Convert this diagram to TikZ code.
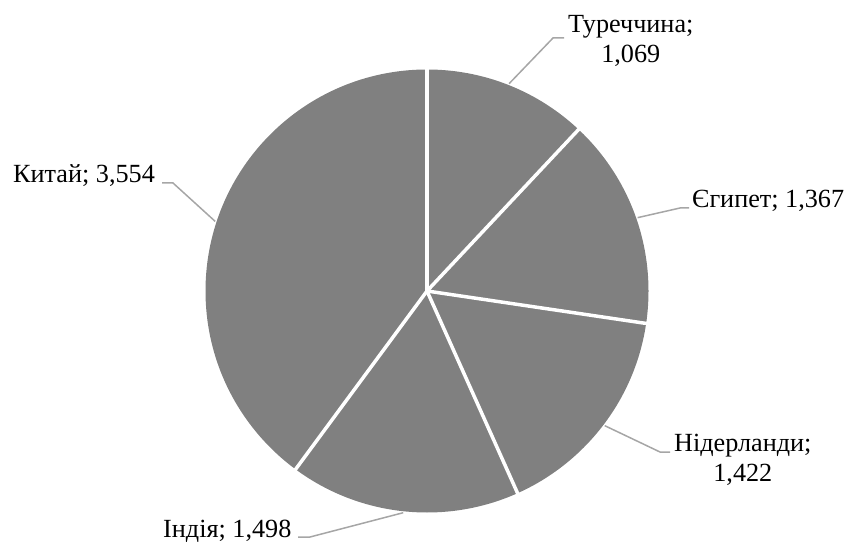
\documentclass[tikz,border=0pt]{standalone}
\usepackage{fontspec}
\setmainfont{Liberation Serif}
\usetikzlibrary{calc}
\begin{document}
\begin{tikzpicture}[x=1pt,y=1pt,
  lbl/.style={inner sep=0pt, font=\fontsize{26.2}{30}\selectfont, text=black},
  leader/.style={draw=black!35, line width=1.5pt},
  sep/.style={draw=white, line width=3.5pt}]
\useasboundingbox (0,0) rectangle (848,541);
\coordinate (c) at (427,250);
\def\R{221.5}
\fill[black!50] (c) circle (\R);
\foreach \a in {90,46.81,-8.42,-65.87,-126.39}
  \draw[sep] (c) -- ++(\a:\R+1);
% leader start points on the pie
\coordinate (s1) at ($(c)+(68.4:223)$);
\coordinate (s2) at ($(c)+(19.2:223)$);
\coordinate (s3) at ($(c)+(-37.15:223)$);
\coordinate (s4) at ($(c)+(-96.13:223)$);
\coordinate (s5) at ($(c)+(161.8:223)$);
% bends and ends
\coordinate (b1) at (553,503); \coordinate (e1) at (564,503);
\coordinate (b2) at (680,333); \coordinate (e2) at (689,333);
\coordinate (b3) at (660,89);  \coordinate (e3) at (670,89);
\coordinate (b4) at (310,4);   \coordinate (e4) at (298,4);
\coordinate (b5) at (173,358); \coordinate (e5) at (162,358);
% labels
\node[lbl, anchor=base west] (l1) at (568,508) {Туреччина;};
\node[lbl, anchor=base] (l1b) at (l1.base |- 0,478.5) {1,069};
\node[lbl, anchor=base west] (l2) at (692,333.5) {Єгипет; 1,367};
\node[lbl, anchor=base west] (l3) at (674,89.5) {Нідерланди;};
\node[lbl, anchor=base] (l3b) at (l3.base |- 0,59.5) {1,422};
\node[lbl, anchor=base west] (l4) at (163,4) {Індія; 1,498};
\node[lbl, anchor=base west] (l5) at (13,358) {Китай; 3,554};
% leaders
\draw[leader] (s1) -- (b1) -- (e1);
\draw[leader] (s2) -- (b2) -- (e2);
\draw[leader] (s3) -- (b3) -- (e3);
\draw[leader] (s4) -- (b4) -- (e4);
\draw[leader] (s5) -- (b5) -- (e5);
\end{tikzpicture}
\end{document}
